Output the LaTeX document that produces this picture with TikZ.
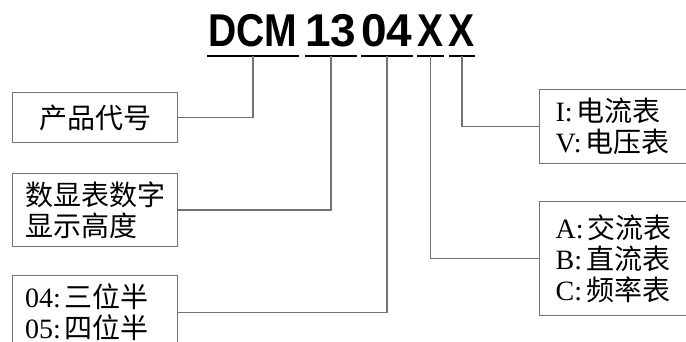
\documentclass[tikz,border=0pt]{standalone}
\usepackage{fontspec}
\setmainfont{Liberation Serif}
\newfontfamily\cjk{Noto Sans CJK SC}
\newfontfamily\codefont{Liberation Sans Bold}
\newfontfamily\codenarrow[FakeStretch=0.85]{Liberation Sans Bold}
\newcommand\sep{\hspace{4pt}}
\tikzset{
  part/.style={anchor=base, inner xsep=0pt, inner ysep=9pt, text height=34pt, text depth=0pt,
    font=\fontsize{46}{46}\selectfont\codefont},
  uline/.style={line width=2.2pt, black},
  box/.style={draw=black!55, line width=1.3pt, anchor=north west, inner xsep=12.5pt, inner ysep=0pt,
    font=\fontsize{28}{31}\selectfont},
  link/.style={draw=black!55, line width=1.3pt},
}
\begin{document}
\begin{tikzpicture}[x=1pt, y=-1pt]
 \fill[white] (0,0) rectangle (686,342);
 \useasboundingbox (0,0) rectangle (686,342);
 \clip (0,0) rectangle (686,342);
 % model code
 \node[part, minimum width=92pt] (dcm) at (253,47) {\codenarrow DCM};
 \node[part, minimum width=50pt] (size) at (331,47) {13};
 \node[part, minimum width=50pt] (digit) at (387,47) {04};
 \node[part, minimum width=25pt] (type) at (430.5,47) {\codenarrow X};
 \node[part, minimum width=26pt] (kind) at (462,47) {\codenarrow X};
 \foreach \p in {dcm,size,digit,type,kind}
   \draw[uline] (\p.south west) -- (\p.south east);
 %
 \node[box, minimum width=165pt, minimum height=50pt, align=center] (code) at (12,92) {\cjk 产品代号};
 \node[box, minimum height=73pt, text width=140pt, align=left] (height) at (12,173)
   {\cjk 数显表数字\\显示高度};
 \node[box, minimum height=73pt, text width=140pt, align=left] (digits) at (12,275)
   {04:\sep{\cjk 三位半}\\05:\sep{\cjk 四位半}};
 \node[box, minimum height=74pt, inner xsep=16pt, text width=140pt, align=left] (meter) at (539,89)
   {I:\sep{\cjk 电流表}\\V:\sep{\cjk 电压表}};
 \node[box, minimum height=114pt, inner xsep=16pt, text width=140pt, align=left] (current) at (539,201)
   {A:\sep{\cjk 交流表}\\B:\sep{\cjk 直流表}\\C:\sep{\cjk 频率表}};
 %
 \draw[link] (code.east) -| (dcm.south);
 \draw[link] (height.east) -| (size.south);
 \draw[link] (digits.east) -| (digit.south);
 \draw[link] (current.west) -| (type.south);
 \draw[link] (meter.west) -| (kind.south);
\end{tikzpicture}
\end{document}
